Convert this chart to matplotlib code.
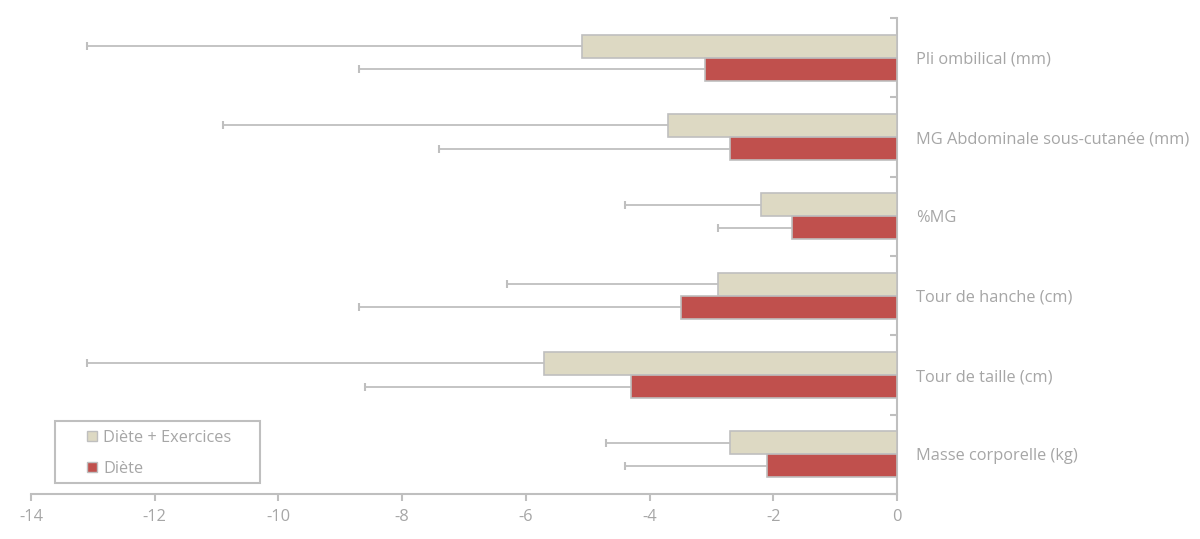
import numpy as np
import matplotlib
matplotlib.use("Agg")
import matplotlib.pyplot as plt
from matplotlib.patches import Patch, Rectangle

plt.rcParams['font.family'] = ['Open Sans', 'DejaVu Sans']

# categories, bottom to top
categories = ["Masse corporelle (kg)", "Tour de taille (cm)", "Tour de hanche (cm)",
              "%MG", "MG Abdominale sous-cutanée (mm)", "Pli ombilical (mm)"]
diete_ex = [-2.7, -5.7, -2.9, -2.2, -3.7, -5.1]
diete_ex_sd = [2.0, 7.4, 3.4, 2.2, 7.2, 8.0]
diete = [-2.1, -4.3, -3.5, -1.7, -2.7, -3.1]
diete_sd = [2.3, 4.3, 5.2, 1.2, 4.7, 5.6]
xticks = [-14, -12, -10, -8, -6, -4, -2, 0]

TXT = "#a6a6a6"
GRID = "#bfbfbf"
C_EX = "#ddd9c3"
C_D = "#c0504d"
FS = 11.8

fig = plt.figure(figsize=(12, 5.39), dpi=100)
ax = fig.add_axes([31/1200, 45/539, (897-31)/1200, (494-18)/539])

y = np.arange(len(categories))
h = 0.29
y_ex = y + h/2
y_d = y - h/2

ax.barh(y_ex, diete_ex, height=h, color=C_EX, edgecolor=GRID, linewidth=1.2, zorder=3)
ax.barh(y_d, diete, height=h, color=C_D, edgecolor=GRID, linewidth=1.2, zorder=3)

# one-sided error bars (to the left)
for yy, v, sd in [(y_ex, diete_ex, diete_ex_sd), (y_d, diete, diete_sd)]:
    ends = np.array(v) - np.array(sd)
    ax.hlines(yy, ends, 0, color=GRID, linewidth=1.3, zorder=2)
    ax.plot(ends, yy, linestyle="none", marker="|", markersize=6, markeredgewidth=1.5,
            color=GRID, zorder=2)

ax.set_xlim(-14, 0)
ax.set_ylim(-0.5, len(categories) - 0.5)

for s in ["top", "left"]:
    ax.spines[s].set_visible(False)
for s in ["right", "bottom"]:
    ax.spines[s].set_color(GRID)
    ax.spines[s].set_linewidth(1.5)

ax.set_xticks(xticks)
ax.set_xticklabels([str(t) for t in xticks])
ax.tick_params(axis="x", colors=GRID, labelcolor=TXT, labelsize=FS, length=5, width=1.5, pad=6)

ax.yaxis.tick_right()
ax.set_yticks(np.arange(-0.5, len(categories), 1.0))
ax.set_yticklabels([])
ax.set_yticks(y, minor=True)
ax.set_yticklabels(categories, minor=True)
ax.tick_params(axis="y", which="major", direction="in", colors=GRID, length=5, width=1.5)
ax.tick_params(axis="y", which="minor", length=0, labelcolor=TXT, labelsize=FS, pad=13.5)

# legend: frame drawn separately so the padding matches
ax.add_patch(Rectangle((24/866, 11/476), 205/866, 62/476, transform=ax.transAxes,
                       facecolor="white", edgecolor=GRID, linewidth=1.5, zorder=4,
                       clip_on=False))
handles = [Patch(facecolor=C_EX, edgecolor=GRID, label="Diète + Exercices"),
           Patch(facecolor=C_D, edgecolor=GRID, label="Diète")]
leg = ax.legend(handles=handles, loc="upper left", bbox_to_anchor=(56/866, 64/476),
                frameon=False, fontsize=FS, labelcolor=TXT,
                handlelength=0.6, handleheight=0.6, handletextpad=0.4,
                borderpad=0, labelspacing=0.9, borderaxespad=0)
leg.set_zorder(5)

fig.savefig("out.png", dpi=100)
